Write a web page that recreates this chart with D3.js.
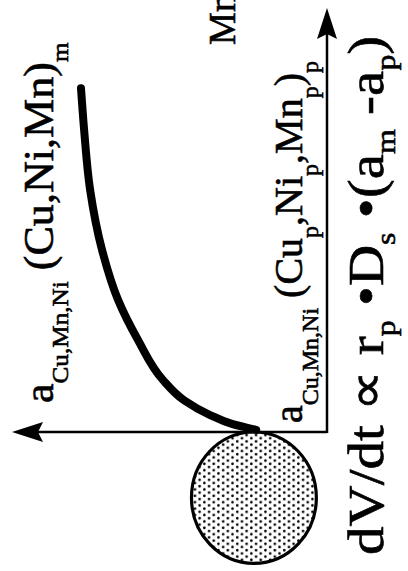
<!DOCTYPE html>
<html>
<head>
<meta charset="utf-8">
<script src="https://cdn.jsdelivr.net/npm/d3@7"></script>
<style>
  html, body { margin: 0; padding: 0; background: #fff; }
  svg { display: block; }
  text { font-family: "Liberation Serif", "Times New Roman", serif; fill: #000; }
</style>
</head>
<body>
<svg id="chart" width="408" height="571"></svg>
<script>
// Activity profile around a growing precipitate (distance from the particle surface vs. solute activity)
const distance = [0.05, 0.19, 0.40, 0.75, 1.23, 2.17, 3.11, 4.29, 5.71, 7.12, 8.11];
const activity = [2.25, 3.02, 3.71, 4.54, 5.21, 6.00, 6.63, 7.14, 7.52, 7.71, 7.81];

// precipitate radius in distance units, and its activity level a_p
const precipRadius = 1.55;
const precipActivity = 2.32;

// label pieces: [text, isSubscript]
const matrixLabel = [["a", 0], ["Cu,Mn,Ni", 1], [" (Cu,Ni,Mn)", 0], ["m", 1]];
const particleLabel = [["a", 0], ["Cu,Mn,Ni", 1], [" (Cu", 0], ["p", 1], [",Ni", 0], ["p", 1], [",Mn", 0], ["p", 1], [")", 0], ["p", 1]];
const rateLabel = [["dV/dt \u221D r", 0], ["p", 1], [" \u2022D", 0], ["s", 1], [" \u2022(a", 0], ["m", 1], [" -a", 0], ["p", 1], [")", 0]];
const cornerLabel = [["Mn", 0]];

const W = 571, H = 408; // drawing frame before rotation
const svg = d3.select("#chart");
const g = svg.append("g").attr("transform", `translate(0,${W}) rotate(-90)`);

const x = d3.scaleLinear().domain([0, 10]).range([139, 563]);
const y = d3.scaleLinear().domain([0, 10]).range([327, 12]);

// dotted fill for the precipitate
const defs = svg.append("defs");
const pat = defs.append("pattern")
  .attr("id", "stipple").attr("patternUnits", "userSpaceOnUse")
  .attr("width", 6.4).attr("height", 9.4);
pat.append("circle").attr("cx", 1.6).attr("cy", 2.3).attr("r", 1.3).attr("fill", "#000");
pat.append("circle").attr("cx", 4.8).attr("cy", 7.0).attr("r", 1.3).attr("fill", "#000");

// precipitate
const cx = x(-precipRadius), rx = x(0) - x(-precipRadius);
g.append("ellipse")
  .attr("cx", cx).attr("cy", y(precipActivity))
  .attr("rx", rx).attr("ry", rx * 0.95)
  .attr("fill", "url(#stipple)")
  .attr("stroke", "#000").attr("stroke-width", 3.2);

// axes
const axisStroke = 2.5;
g.append("line")
  .attr("x1", x(0)).attr("y1", y(0)).attr("x2", x(0)).attr("y2", y(10) + 20)
  .attr("stroke", "#000").attr("stroke-width", axisStroke);
g.append("line")
  .attr("x1", x(0) - 1).attr("y1", y(0)).attr("x2", x(10) - 20).attr("y2", y(0))
  .attr("stroke", "#000").attr("stroke-width", axisStroke);

// arrowheads
const headLen = 31, headHalf = 10;
g.append("path")
  .attr("d", `M${x(0)},${y(10)} L${x(0) - headHalf},${y(10) + headLen} L${x(0)},${y(10) + headLen - 5} L${x(0) + headHalf},${y(10) + headLen} Z`)
  .attr("fill", "#000");
g.append("path")
  .attr("d", `M${x(10)},${y(0)} L${x(10) - headLen},${y(0) - headHalf} L${x(10) - headLen + 5},${y(0)} L${x(10) - headLen},${y(0) + headHalf} Z`)
  .attr("fill", "#000");

// activity profile
const line = d3.line().x((d, i) => x(distance[i])).y((d, i) => y(activity[i])).curve(d3.curveMonotoneX);
g.append("path")
  .attr("d", line(distance))
  .attr("fill", "none").attr("stroke", "#000")
  .attr("stroke-width", 8).attr("stroke-linecap", "round");

// labels with subscripts, stretched along the reading direction by sx
function label(parts, u, v, size, subSize, shift, sx) {
  const t = g.append("text")
    .attr("transform", `translate(${u},${v}) scale(${sx},1)`)
    .attr("x", 0).attr("y", 0)
    .attr("font-size", size)
    .attr("stroke", "#000").attr("stroke-width", 0.6);
  let prev = 0;
  parts.forEach(([s, sub]) => {
    const off = sub ? shift : 0;
    t.append("tspan")
      .attr("dy", off - prev)
      .attr("font-size", sub ? subSize : size)
      .text(s);
    prev = off;
  });
  return t;
}

label(matrixLabel, 168, 53, 42, 24, 15, 1.05);
label(particleLabel, 148, 302, 40, 24, 16, 1.0);
label(rateLabel, 16, 383, 50, 28, 12, 1.14);
label(cornerLabel, 526, 235, 37, 20, 10, 1.0);
</script>
</body>
</html>
